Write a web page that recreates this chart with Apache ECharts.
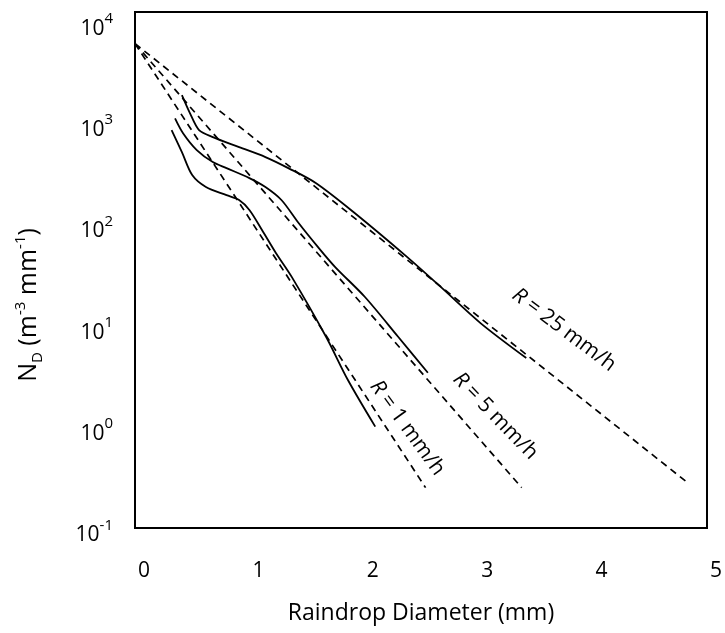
<!DOCTYPE html>
<html>
<head>
<meta charset="utf-8">
<script src="https://cdn.jsdelivr.net/npm/echarts@6/dist/echarts.min.js"></script>
<style>html,body{margin:0;padding:0;background:#fff}#c{width:725px;height:633px}</style>
</head>
<body>
<div id="c"></div>
<script>
// Diameter (mm) vs N_D (m^-3 mm^-1)
const xTicks = [0, 1, 2, 3, 4, 5];
const yTickExponents = [-1, 0, 1, 2, 3, 4];

// Measured spectra (solid)
const measuredR1 = [[0.32,840],[0.41,510],[0.50,303],[0.62,231],[0.80,192],[0.91,172],[1.00,137],[1.11,87],[1.23,52],[1.37,30],[1.67,7.7],[1.86,2.9],[2.10,1.0]];
const measuredR5 = [[0.35,1100],[0.42,785],[0.54,535],[0.68,407],[0.80,355],[1.00,283],[1.14,231],[1.28,172],[1.43,102],[1.60,59],[1.75,37.5],[2.01,19],[2.30,7.7],[2.56,3.4]];
const measuredR25 = [[0.41,1862],[0.48,1239],[0.56,841],[0.68,718],[0.91,572],[1.14,456],[1.34,355],[1.58,253],[1.92,128],[2.38,47],[2.67,24],[3.02,10.5],[3.42,4.75]];

// Exponential (Marshall-Palmer) fits (dashed)
const fitR1 = [[0,6000],[2.54,0.25]];
const fitR5 = [[0,6000],[3.38,0.25]];
const fitR25 = [[0,6000],[4.83,0.28]];

const rainRates = ['1', '5', '25'];

const FONT = 'Open Sans';
const chart = echarts.init(document.getElementById('c'));

function solid(data){
  return {type:'line', data:data, symbol:'none', smooth:0.3,
    lineStyle:{color:'#000', width:1.8}, z:3, silent:true};
}
function dashed(data, rate, at, rot){
  return {type:'line', data:data, symbol:'none',
    lineStyle:{color:'#000', width:1.7, type:[7,5]}, z:2, silent:true,
    markPoint:{symbol:'circle', symbolSize:0, silent:true,
      data:[{coord:at, label:{show:true, position:'inside', rotate:rot,
        formatter:'{i|R} = ' + rate + ' mm/h',
        color:'#000', fontFamily:FONT, fontSize:21,
        rich:{i:{fontStyle:'italic', fontFamily:FONT, fontSize:21, color:'#000'}}}}]}};
}

chart.setOption({
  animation:false,
  backgroundColor:'#fff',
  grid:{left:135, right:13, top:12, bottom:105, show:true, borderColor:'#000', borderWidth:2, containLabel:false},
  xAxis:{type:'value', min:xTicks[0], max:xTicks[xTicks.length-1], interval:1,
    axisLine:{show:true, lineStyle:{color:'#000', width:2}},
    axisTick:{show:false}, splitLine:{show:false},
    axisLabel:{color:'#000', fontFamily:FONT, fontSize:21, margin:33, padding:[0,0,0,18],
      formatter:function(v){return xTicks.indexOf(v) >= 0 ? String(v) : '';}},
    name:'Raindrop Diameter (mm)', nameLocation:'middle', nameGap:74,
    nameTextStyle:{color:'#000', fontFamily:FONT, fontSize:23}},
  yAxis:{type:'log', logBase:10, min:Math.pow(10, yTickExponents[0]), max:12300,
    axisLine:{show:true, lineStyle:{color:'#000', width:2}},
    axisTick:{show:false}, splitLine:{show:false}, minorTick:{show:false},
    axisLabel:{showMaxLabel:false, color:'#000', fontFamily:FONT, fontSize:21, margin:22, padding:[8,0,0,0],
      formatter:function(v){
        const e = Math.round(Math.log10(v));
        if (yTickExponents.indexOf(e) < 0 || Math.abs(Math.log10(v) - e) > 1e-6) return '';
        return '{b|10}{s|' + e + '}';
      },
      rich:{b:{fontFamily:FONT, fontSize:21, color:'#000', lineHeight:28, verticalAlign:'bottom'},
            s:{fontFamily:FONT, fontSize:15, color:'#000', lineHeight:28, verticalAlign:'top'}}},
    name:'{b|N}{sub|D}{b| (m}{sup|-3}{b| mm}{sup|-1}{b|)}', nameLocation:'middle', nameGap:90, nameRotate:90,
    nameTextStyle:{padding:[0,70,0,0],
      rich:{b:{fontFamily:FONT, fontSize:25, color:'#000', lineHeight:32, verticalAlign:'middle'},
            sub:{fontFamily:FONT, fontSize:15, color:'#000', lineHeight:32, verticalAlign:'bottom'},
            sup:{fontFamily:FONT, fontSize:15, color:'#000', lineHeight:32, verticalAlign:'top'}}}},
  series:[
    dashed(fitR1, rainRates[0], [2.38, 0.97], -54),
    dashed(fitR5, rainRates[1], [3.15, 1.27], -46),
    dashed(fitR25, rainRates[2], [3.75, 9.0], -37),
    solid(measuredR1),
    solid(measuredR5),
    solid(measuredR25)
  ]
});
</script>
</body>
</html>
